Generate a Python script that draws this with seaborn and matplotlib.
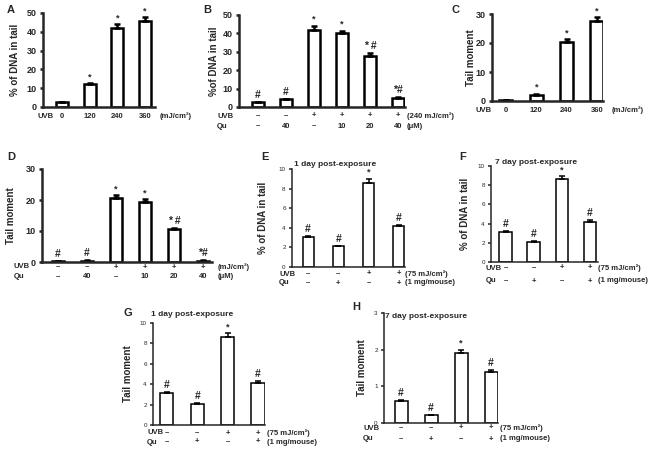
import numpy as np
import matplotlib
matplotlib.use("Agg")
import matplotlib.pyplot as plt
import seaborn as sns

W, H = 654, 450

# A: % of DNA in tail vs UVB dose
a_doses = ["0", "120", "240", "360"]
a_vals = [2.5, 12.0, 42.0, 45.5]
a_err = [0.3, 0.7, 2.0, 2.2]
a_marks = ["", "*", "*", "*"]

# B: UVB 240 mJ/cm2 + quercetin
b_uvb = ["–", "–", "+", "+", "+", "+"]
b_qu = ["–", "40", "–", "10", "20", "40"]
b_vals = [2.5, 4.2, 42.0, 40.0, 27.8, 5.0]
b_err = [0.3, 0.4, 2.0, 1.5, 1.5, 0.5]
b_marks = ["#", "#", "*", "*", "* #", "*#"]

# C: tail moment vs UVB dose
c_vals = [0.2, 2.1, 20.3, 27.5]
c_err = [0.1, 0.3, 1.0, 1.3]
c_marks = ["", "*", "*", "*"]

# D: tail moment, UVB + quercetin
d_vals = [0.3, 0.4, 20.5, 19.3, 10.5, 0.4]
d_err = [0.1, 0.1, 1.0, 1.0, 0.5, 0.1]
d_marks = ["#", "#", "*", "*", "* #", "*#"]

# E-H: mice
mouse_uvb = ["–", "–", "+", "+"]
mouse_qu = ["–", "+", "–", "+"]
mouse_marks = ["#", "#", "*", "#"]
e_vals = [3.1, 2.1, 8.6, 4.15]
e_err = [0.1, 0.08, 0.4, 0.15]
f_vals = [3.15, 2.1, 8.6, 4.2]
f_err = [0.1, 0.08, 0.35, 0.15]
g_vals = [3.15, 2.1, 8.6, 4.15]
g_err = [0.1, 0.08, 0.4, 0.15]
h_vals = [0.6, 0.22, 1.9, 1.4]
h_err = [0.03, 0.01, 0.1, 0.05]

sns.set_style("ticks")
plt.rcParams["font.family"] = ["Liberation Sans", "DejaVu Sans"]
plt.rcParams["font.weight"] = "bold"

ROW_FS = 5.5

fig = plt.figure(figsize=(W / 100, H / 100), dpi=100)


def ftext(x, y, s, **kw):
    # text placed in figure pixels (from top left)
    fig.text(x / W, 1 - y / H, s, **kw)


def panel(box, vals, err, marks, yticks, xlim, bw, lw, ylabel, ylab_x,
          rows, small=False):
    l, t, r, b = box
    ax = fig.add_axes([l / W, 1 - b / H, (r - l) / W, (b - t) / H])
    x = np.arange(len(vals))
    sns.barplot(x=x, y=vals, ax=ax, color="white", edgecolor="black",
                linewidth=lw, width=bw, errorbar=None, saturation=1)
    ax.errorbar(x, vals, yerr=[np.zeros(len(vals)), err], fmt="none",
                ecolor="black", elinewidth=lw, capsize=2.2, capthick=lw)
    for i, m in enumerate(marks):
        if m:
            ax.annotate(m, xy=(i, vals[i] + err[i]), xytext=(0, 2),
                        textcoords="offset pixels", ha="center", va="bottom",
                        fontsize=7.5 if "#" in m else 6.5)
    ax.set_xlim(*xlim)
    ax.set_ylim(yticks[0], yticks[-1])
    ax.set_yticks(yticks)
    ax.set_xticks([])
    ax.set_xlabel("")
    sns.despine(ax=ax)
    for s in ["left", "bottom"]:
        ax.spines[s].set_linewidth(lw)
    ax.tick_params(axis="y", length=2.5, width=lw, pad=2,
                   labelsize=4.5 if small else 6.5)
    if small:
        for tl in ax.get_yticklabels():
            tl.set_fontweight("normal")
    ax.set_ylabel(ylabel, fontsize=7, fontweight="bold")
    ax.yaxis.set_label_coords((ylab_x - l) / (r - l), 0.5)
    for labels, dy in rows:
        for i, lab in enumerate(labels):
            ax.annotate(lab, xy=(i, 0), xycoords=("data", "axes fraction"),
                        xytext=(0, -dy), textcoords="offset pixels",
                        ha="center", va="center", fontsize=ROW_FS)
    return ax


dna = "% of DNA in tail"
tm = "Tail moment"

# A
panel((43, 13, 155, 107), a_vals, a_err, a_marks, [0, 10, 20, 30, 40, 50],
      (-0.69, 3.36), 0.43, 1.8, dna, 20, [(a_doses, 9)])
ftext(37, 116, "UVB", fontsize=ROW_FS, va="center")
ftext(160, 116, "(mJ/cm²)", fontsize=ROW_FS, va="center")
ftext(7, 10, "A", fontsize=8, va="center")

# B
panel((239, 15, 405, 107), b_vals, b_err, b_marks, [0, 10, 20, 30, 40, 50],
      (-0.68, 5.25), 0.43, 1.8, "%of DNA in tail", 219,
      [(b_uvb, 9), (b_qu, 19)])
ftext(217, 116, "UVB", fontsize=ROW_FS, va="center")
ftext(217, 126, "Qu", fontsize=ROW_FS, va="center")
ftext(407, 116, "(240 mJ/cm²)", fontsize=ROW_FS, va="center")
ftext(407, 126, "(μM)", fontsize=ROW_FS, va="center")
ftext(203, 10, "B", fontsize=8, va="center")

# C
panel((492, 14, 603, 101), c_vals, c_err, c_marks, [0, 10, 20, 30],
      (-0.46, 3.2), 0.43, 1.8, tm, 476, [(a_doses, 9)])
ftext(475, 110, "UVB", fontsize=ROW_FS, va="center")
ftext(612, 110, "(mJ/cm²)", fontsize=ROW_FS, va="center")
ftext(452, 10, "C", fontsize=8, va="center")

# D
panel((42, 169, 212, 262), d_vals, d_err, d_marks, [0, 10, 20, 30],
      (-0.55, 5.31), 0.42, 1.8, tm, 16, [(b_uvb, 5), (b_qu, 15)])
ftext(14, 267, "UVB", fontsize=ROW_FS, va="center")
ftext(14, 277, "Qu", fontsize=ROW_FS, va="center")
ftext(218, 267, "(mJ/cm²)", fontsize=ROW_FS, va="center")
ftext(218, 277, "(μM)", fontsize=ROW_FS, va="center")
ftext(7, 157, "D", fontsize=8, va="center")

# E-H
mouse_boxes = [
    ("E", (292, 169, 405, 267), e_vals, e_err, [0, 2, 4, 6, 8, 10], (-0.53, 3.2),
     0.36, dna, 268, (7, 16), 279, 405, "1 day post-exposure", (335, 165), (261, 157)),
    ("F", (491, 166, 598, 262), f_vals, f_err, [0, 2, 4, 6, 8, 10], (-0.52, 3.28),
     0.45, dna, 470, (6, 19), 486, 598, "7 day post-exposure", (536, 163), (459, 157)),
    ("G", (153, 323, 265, 425), g_vals, g_err, [0, 2, 4, 6, 8, 10], (-0.46, 3.23),
     0.43, tm, 133, (8, 17), 147, 267, "1 day post-exposure", (192, 315), (124, 313)),
    ("H", (384, 313, 498, 423), h_vals, h_err, [0, 1, 2, 3], (-0.57, 3.23),
     0.43, tm, 367, (5, 16), 363, 500, "7 day post-exposure", (426, 317), (352, 307)),
]
for (letter, box, vals, err, yt, xl, bw, yl, ylx, dys, hx, ux,
     title, tpos, lpos) in mouse_boxes:
    panel(box, vals, err, mouse_marks, yt, xl, bw, 1.1, yl, ylx,
          [(mouse_uvb, dys[0]), (mouse_qu, dys[1])], small=True)
    yb = box[3]
    ftext(hx, yb + dys[0], "UVB", fontsize=ROW_FS, va="center")
    ftext(hx, yb + dys[1], "Qu", fontsize=ROW_FS, va="center")
    ftext(ux, yb + dys[0], "(75 mJ/cm²)", fontsize=ROW_FS, va="center")
    ftext(ux, yb + dys[1], "(1 mg/mouse)", fontsize=ROW_FS, va="center")
    ftext(tpos[0], tpos[1], title, fontsize=6, ha="center", va="center")
    ftext(lpos[0], lpos[1], letter, fontsize=8, va="center")

fig.savefig("out.png", dpi=100)
